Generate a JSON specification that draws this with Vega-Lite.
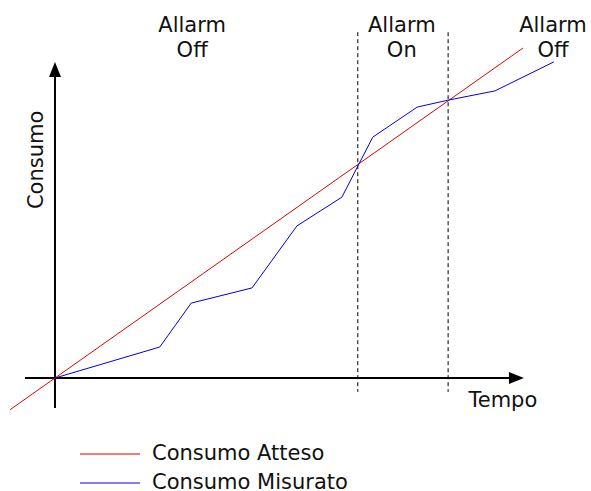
{
  "$schema": "https://vega.github.io/schema/vega-lite/v6.json",
  "width": 591,
  "height": 491,
  "padding": 0,
  "autosize": {"type": "none"},
  "background": "white",
  "config": {
    "view": {"stroke": null},
    "font": "DejaVu Sans",
    "text": {"font": "DejaVu Sans", "fontSize": 21, "color": "#111111", "lineBreak": "\n", "lineHeight": 25}
  },
  "datasets": {
    "serie": [
      {"tempo": -9.6, "consumo": -9.6, "serie": "Consumo Atteso"},
      {"tempo": 100, "consumo": 100, "serie": "Consumo Atteso"},
      {"tempo": 0, "consumo": 0, "serie": "Consumo Misurato"},
      {"tempo": 22.4, "consumo": 9.4, "serie": "Consumo Misurato"},
      {"tempo": 29.1, "consumo": 22.7, "serie": "Consumo Misurato"},
      {"tempo": 42.1, "consumo": 27.3, "serie": "Consumo Misurato"},
      {"tempo": 51.7, "consumo": 46.1, "serie": "Consumo Misurato"},
      {"tempo": 61.3, "consumo": 54.8, "serie": "Consumo Misurato"},
      {"tempo": 67.9, "consumo": 73.0, "serie": "Consumo Misurato"},
      {"tempo": 77.4, "consumo": 82.1, "serie": "Consumo Misurato"},
      {"tempo": 84.0, "consumo": 84.2, "serie": "Consumo Misurato"},
      {"tempo": 94.0, "consumo": 87.0, "serie": "Consumo Misurato"},
      {"tempo": 106.6, "consumo": 95.8, "serie": "Consumo Misurato"}
    ],
    "soglie": [
      {"tempo": 64.7},
      {"tempo": 84.0}
    ],
    "fasi": [
      {"tempo": 29.3, "consumo": 104.8, "fase": "Allarm\nOff"},
      {"tempo": 74.1, "consumo": 104.8, "fase": "Allarm\nOn"},
      {"tempo": 106.4, "consumo": 104.8, "fase": "Allarm\nOff"}
    ],
    "uno": [{}]
  },
  "layer": [
    {
      "data": {"name": "soglie"},
      "mark": {"type": "rule", "color": "#000000", "strokeWidth": 1, "strokeDash": [4, 3]},
      "encoding": {
        "x": {"field": "tempo", "type": "quantitative", "scale": {"domain": [-11.75, 114.53], "nice": false, "zero": false}, "axis": null},
        "y": {"datum": 104.8, "type": "quantitative", "scale": {"domain": [-34.24, 114.55], "nice": false, "zero": false}, "axis": null},
        "y2": {"datum": -4.2}
      }
    },
    {
      "data": {"name": "uno"},
      "mark": {"type": "rule", "color": "#000000", "strokeWidth": 2},
      "encoding": {
        "x": {"datum": -6.41, "type": "quantitative"},
        "x2": {"datum": 97.2},
        "y": {"datum": 0, "type": "quantitative"}
      }
    },
    {
      "data": {"name": "uno"},
      "mark": {"type": "rule", "color": "#000000", "strokeWidth": 2},
      "encoding": {
        "x": {"datum": 0, "type": "quantitative"},
        "y": {"datum": -9.09, "type": "quantitative"},
        "y2": {"datum": 91.5}
      }
    },
    {
      "data": {"name": "uno"},
      "mark": {"type": "point", "shape": "M0,-1L-0.8,1L0.8,1Z", "filled": true, "opacity": 1, "color": "#000000", "size": 225, "strokeWidth": 0},
      "encoding": {
        "x": {"datum": 0, "type": "quantitative"},
        "y": {"datum": 93.5, "type": "quantitative"}
      }
    },
    {
      "data": {"name": "uno"},
      "mark": {"type": "point", "shape": "M1,0L-1,-0.8L-1,0.8Z", "filled": true, "opacity": 1, "color": "#000000", "size": 225, "strokeWidth": 0},
      "encoding": {
        "x": {"datum": 98.6, "type": "quantitative"},
        "y": {"datum": 0, "type": "quantitative"}
      }
    },
    {
      "data": {"name": "serie"},
      "mark": {"type": "line", "strokeWidth": 1},
      "encoding": {
        "x": {"field": "tempo", "type": "quantitative"},
        "y": {"field": "consumo", "type": "quantitative"},
        "color": {
          "field": "serie",
          "type": "nominal",
          "scale": {"domain": ["Consumo Atteso", "Consumo Misurato"], "range": ["#e00000", "#0000e0"]},
          "legend": {
            "title": null,
            "orient": "none",
            "legendX": 99.5,
            "legendY": 443.5,
            "padding": 0,
            "symbolType": "M-3,0L3,0",
            "symbolSize": 400,
            "symbolStrokeWidth": 1,
            "symbolFillColor": "transparent",
            "rowPadding": 7,
            "labelOffset": 31.5,
            "labelFont": "DejaVu Sans",
            "labelFontSize": 21,
            "labelColor": "#111111",
            "labelLimit": 0
          }
        }
      }
    },
    {
      "data": {"name": "fasi"},
      "mark": {"type": "text", "align": "center", "baseline": "alphabetic"},
      "encoding": {
        "x": {"field": "tempo", "type": "quantitative"},
        "y": {"field": "consumo", "type": "quantitative"},
        "text": {"field": "fase"}
      }
    },
    {
      "data": {"name": "uno"},
      "mark": {"type": "text", "align": "center", "baseline": "middle", "angle": 270},
      "encoding": {
        "x": {"datum": -3.95, "type": "quantitative"},
        "y": {"datum": 66.1, "type": "quantitative"},
        "text": {"value": "Consumo"}
      }
    },
    {
      "data": {"name": "uno"},
      "mark": {"type": "text", "align": "center", "baseline": "alphabetic"},
      "encoding": {
        "x": {"datum": 95.7, "type": "quantitative"},
        "y": {"datum": -8.8, "type": "quantitative"},
        "text": {"value": "Tempo"}
      }
    }
  ]
}
